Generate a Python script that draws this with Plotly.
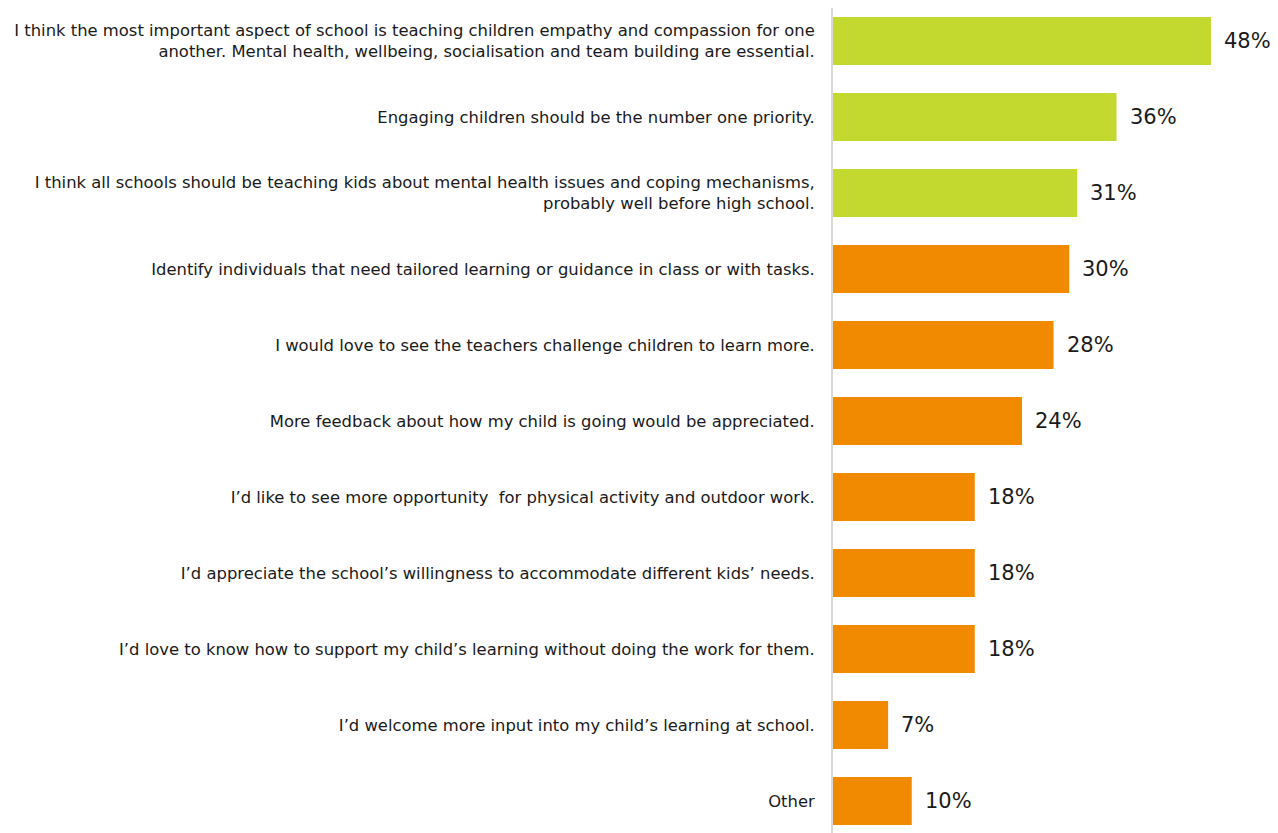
import plotly.graph_objects as go

categories = [
    "I think the most important aspect of school is teaching children empathy and compassion for one<br>another. Mental health, wellbeing, socialisation and team building are essential.",
    "Engaging children should be the number one priority.",
    "I think all schools should be teaching kids about mental health issues and coping mechanisms,<br>probably well before high school.",
    "Identify individuals that need tailored learning or guidance in class or with tasks.",
    "I would love to see the teachers challenge children to learn more.",
    "More feedback about how my child is going would be appreciated.",
    "I\u2019d like to see more opportunity  for physical activity and outdoor work.",
    "I\u2019d appreciate the school\u2019s willingness to accommodate different kids\u2019 needs.",
    "I\u2019d love to know how to support my child\u2019s learning without doing the work for them.",
    "I\u2019d welcome more input into my child\u2019s learning at school.",
    "Other",
]
values = [48, 36, 31, 30, 28, 24, 18, 18, 18, 7, 10]
groups = ["green", "green", "green", "orange", "orange", "orange", "orange", "orange", "orange", "orange", "orange"]
palette = {"green": "#C3D92F", "orange": "#F28A00"}
colors = [palette[g] for g in groups]

fig = go.Figure()
fig.add_trace(go.Bar(
    y=categories, x=values, orientation="h",
    marker=dict(color=colors, line=dict(width=0)),
    hoverinfo="skip",
))

for c, v in zip(categories, values):
    fig.add_annotation(
        x=v, y=c, xref="x", yref="y", text=f"{v}%", showarrow=False,
        xanchor="left", yanchor="middle", xshift=11,
        font=dict(family="DejaVu Sans", size=21, color="#1a1a1a"),
    )

# page body adds an 8px offset; figure sized to fit the 1278x833 window
fig.update_layout(
    width=1270, height=825,
    margin=dict(l=825, r=0, t=0, b=0, autoexpand=False),
    paper_bgcolor="white", plot_bgcolor="white",
    showlegend=False, bargap=0.368,
    font=dict(family="DejaVu Sans", size=16.4, color="#1a1a1a"),
)
fig.update_xaxes(range=[0, 56.5], showgrid=False, zeroline=False, showticklabels=False,
                 showline=False, automargin=False)
fig.update_yaxes(range=[10.421, -0.434], showgrid=False, zeroline=False,
                 showline=True, linecolor="#D9D9D9", linewidth=2,
                 ticks="", ticklabelstandoff=13, automargin=False,
                 tickfont=dict(family="DejaVu Sans", size=16.4, color="#1a1a1a"))

fig.write_html("out.html")
